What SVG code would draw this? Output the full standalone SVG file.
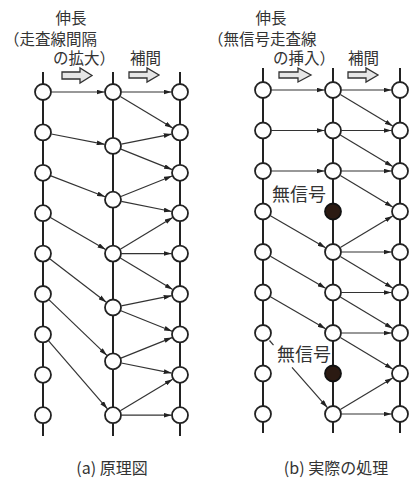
<svg xmlns="http://www.w3.org/2000/svg" width="409" height="479" viewBox="0 0 409 479">
<style>
text{font-family:"Noto Sans CJK JP","Noto Sans",sans-serif;fill:#333}
.h{font-size:15.5px}
.cap{font-size:16px}
.lab{font-size:18px}
.v{stroke:#222;stroke-width:2;fill:none}
.n{fill:#fff;stroke:#222;stroke-width:1.8}
.b{fill:#2b1a12;stroke:#111;stroke-width:1.8}
.c line,.c path{stroke:#333;stroke-width:1.2;fill:none}
.c .a{marker-end:url(#ah)}
.ha{fill:#e6e6e6;stroke:#333;stroke-width:1.3}
</style>
<defs>
<marker id="ah" viewBox="0 0 10 6" refX="10" refY="3" markerWidth="8" markerHeight="5" markerUnits="userSpaceOnUse" orient="auto">
<path d="M0,0 L10,3 L0,6 Z" fill="#222"/>
</marker>
</defs>
<rect width="409" height="479" fill="#fff"/>

<!-- headers -->
<g id="hdr-a">
<text class="h" x="71" y="23.5" text-anchor="middle">伸長</text>
<text class="h" x="4" y="44.5">（走査線間隔</text>
<text class="h" x="53" y="64">の拡大）</text>
<text class="h" x="130" y="64">補間</text>
<path class="ha" d="M62,72 H80 V68 L92,75.5 L80,83 V79 H62 Z"/>
<path class="ha" d="M129,72 H147 V68 L159,75 L147,82 V78 H129 Z"/>
</g>
<g id="hdr-b">
<text class="h" x="271" y="23.5" text-anchor="middle">伸長</text>
<text class="h" x="208" y="44.5">（無信号走査線</text>
<text class="h" x="273" y="64">の挿入）</text>
<text class="h" x="348" y="64">補間</text>
<path class="ha" d="M279,72 H298 V68 L311,75 L298,82 V78 H279 Z"/>
<path class="ha" d="M348,72 H366 V68 L378,75 L366,82 V78 H348 Z"/>
</g>

<!-- vertical scan lines -->
<g id="scanlines">
<line class="v" x1="43" y1="72" x2="43" y2="436"/>
<line class="v" x1="113" y1="72" x2="113" y2="436"/>
<line class="v" x1="180" y1="72" x2="180" y2="436"/>
<line class="v" x1="263" y1="68" x2="263" y2="433"/>
<line class="v" x1="333" y1="68" x2="333" y2="433"/>
<line class="v" x1="400" y1="68" x2="400" y2="433"/>
</g>

<!-- connectors -->
<g id="connectors" class="c">
<!-- (a) left -> middle -->
<line class="a" x1="51.5" y1="92" x2="104.5" y2="92"/>
<line class="a" x1="51.3" y1="134" x2="104.7" y2="144.3"/>
<line class="a" x1="50.9" y1="175.9" x2="105.1" y2="196.7"/>
<line class="a" x1="50.4" y1="217.4" x2="105.6" y2="249.4"/>
<line class="a" x1="49.7" y1="258.8" x2="106.3" y2="302.3"/>
<line class="a" x1="49.1" y1="299.9" x2="106.9" y2="355.4"/>
<line class="a" x1="48.6" y1="340.8" x2="107.4" y2="408.8"/>
<!-- (a) middle -> right -->
<line class="a" x1="121.5" y1="92" x2="171.5" y2="92"/>
<line class="a" x1="120.3" y1="96.4" x2="172.7" y2="128"/>
<line class="a" x1="121.3" y1="144.2" x2="171.7" y2="134.1"/>
<line class="a" x1="120.9" y1="149.1" x2="172.1" y2="169.6"/>
<line class="a" x1="120.9" y1="196.5" x2="172.1" y2="176"/>
<line class="a" x1="121.3" y1="201.4" x2="171.7" y2="211.5"/>
<line class="a" x1="120.3" y1="249.2" x2="172.7" y2="217.6"/>
<line class="a" x1="121.5" y1="253.6" x2="171.5" y2="253.6"/>
<line class="a" x1="120.3" y1="258" x2="172.7" y2="289.6"/>
<line class="a" x1="121.3" y1="305.8" x2="171.7" y2="295.7"/>
<line class="a" x1="120.9" y1="310.7" x2="172.1" y2="331.2"/>
<line class="a" x1="120.9" y1="358.1" x2="172.1" y2="337.6"/>
<line class="a" x1="121.3" y1="363" x2="171.7" y2="373.1"/>
<line class="a" x1="120.3" y1="410.8" x2="172.7" y2="379.2"/>
<line class="a" x1="121.5" y1="415.2" x2="171.5" y2="415.2"/>
<!-- (b) left -> middle -->
<line class="a" x1="271.5" y1="90" x2="324.5" y2="90"/>
<line class="a" x1="271.5" y1="130.5" x2="324.5" y2="130.5"/>
<line class="a" x1="271.5" y1="171" x2="324.5" y2="171"/>
<line class="a" x1="270.4" y1="215.8" x2="325.6" y2="247.7"/>
<line class="a" x1="270.4" y1="256.3" x2="325.6" y2="288.2"/>
<line class="a" x1="270.4" y1="296.8" x2="325.6" y2="328.7"/>
<line x1="269.5" y1="340.5" x2="273.5" y2="345.1"/>
<line class="a" x1="292" y1="367.3" x2="327.4" y2="407.6"/>
<!-- (b) middle -> right -->
<line class="a" x1="341.5" y1="90" x2="391.5" y2="90"/>
<line class="a" x1="340.3" y1="94.4" x2="392.7" y2="126.1"/>
<line class="a" x1="341.5" y1="130.5" x2="391.5" y2="130.5"/>
<line class="a" x1="340.3" y1="134.9" x2="392.7" y2="166.6"/>
<line class="a" x1="341.5" y1="171" x2="391.5" y2="171"/>
<line class="a" x1="340.3" y1="175.4" x2="392.7" y2="207.1"/>
<line class="a" x1="340.3" y1="247.6" x2="392.7" y2="215.9"/>
<line class="a" x1="341.5" y1="252" x2="391.5" y2="252"/>
<line class="a" x1="340.3" y1="256.4" x2="392.7" y2="288.1"/>
<line class="a" x1="341.5" y1="292.5" x2="391.5" y2="292.5"/>
<line class="a" x1="340.3" y1="296.9" x2="392.7" y2="328.6"/>
<line class="a" x1="341.5" y1="333" x2="391.5" y2="333"/>
<line class="a" x1="340.3" y1="337.4" x2="392.7" y2="369.1"/>
<line class="a" x1="340.3" y1="409.6" x2="392.7" y2="377.9"/>
<line class="a" x1="341.5" y1="414" x2="391.5" y2="414"/>
</g>

<!-- (a) nodes -->
<g id="aL0"><circle class="n" cx="43" cy="92" r="8"/></g>
<g id="aL1"><circle class="n" cx="43" cy="132.4" r="8"/></g>
<g id="aL2"><circle class="n" cx="43" cy="172.8" r="8"/></g>
<g id="aL3"><circle class="n" cx="43" cy="213.2" r="8"/></g>
<g id="aL4"><circle class="n" cx="43" cy="253.6" r="8"/></g>
<g id="aL5"><circle class="n" cx="43" cy="294" r="8"/></g>
<g id="aL6"><circle class="n" cx="43" cy="334.4" r="8"/></g>
<g id="aL7"><circle class="n" cx="43" cy="374.8" r="8"/></g>
<g id="aL8"><circle class="n" cx="43" cy="415.2" r="8"/></g>
<g id="aM0"><circle class="n" cx="113" cy="92" r="8"/></g>
<g id="aM1"><circle class="n" cx="113" cy="145.9" r="8"/></g>
<g id="aM2"><circle class="n" cx="113" cy="199.7" r="8"/></g>
<g id="aM3"><circle class="n" cx="113" cy="253.6" r="8"/></g>
<g id="aM4"><circle class="n" cx="113" cy="307.5" r="8"/></g>
<g id="aM5"><circle class="n" cx="113" cy="361.3" r="8"/></g>
<g id="aM6"><circle class="n" cx="113" cy="415.2" r="8"/></g>
<g id="aR0"><circle class="n" cx="180" cy="92" r="8"/></g>
<g id="aR1"><circle class="n" cx="180" cy="132.4" r="8"/></g>
<g id="aR2"><circle class="n" cx="180" cy="172.8" r="8"/></g>
<g id="aR3"><circle class="n" cx="180" cy="213.2" r="8"/></g>
<g id="aR4"><circle class="n" cx="180" cy="253.6" r="8"/></g>
<g id="aR5"><circle class="n" cx="180" cy="294" r="8"/></g>
<g id="aR6"><circle class="n" cx="180" cy="334.4" r="8"/></g>
<g id="aR7"><circle class="n" cx="180" cy="374.8" r="8"/></g>
<g id="aR8"><circle class="n" cx="180" cy="415.2" r="8"/></g>

<!-- (b) nodes -->
<g id="bL0"><circle class="n" cx="263" cy="90" r="8"/></g>
<g id="bL1"><circle class="n" cx="263" cy="130.5" r="8"/></g>
<g id="bL2"><circle class="n" cx="263" cy="171" r="8"/></g>
<g id="bL3"><circle class="n" cx="263" cy="211.5" r="8"/></g>
<g id="bL4"><circle class="n" cx="263" cy="252" r="8"/></g>
<g id="bL5"><circle class="n" cx="263" cy="292.5" r="8"/></g>
<g id="bL6"><circle class="n" cx="263" cy="333" r="8"/></g>
<g id="bL7"><circle class="n" cx="263" cy="373.5" r="8"/></g>
<g id="bL8"><circle class="n" cx="263" cy="414" r="8"/></g>
<g id="bM0"><circle class="n" cx="333" cy="90" r="8"/></g>
<g id="bM1"><circle class="n" cx="333" cy="130.5" r="8"/></g>
<g id="bM2"><circle class="n" cx="333" cy="171" r="8"/></g>
<g id="bM3"><circle class="b" cx="333" cy="211.5" r="8"/></g>
<g id="bM4"><circle class="n" cx="333" cy="252" r="8"/></g>
<g id="bM5"><circle class="n" cx="333" cy="292.5" r="8"/></g>
<g id="bM6"><circle class="n" cx="333" cy="333" r="8"/></g>
<g id="bM7"><circle class="b" cx="333" cy="373.5" r="8"/></g>
<g id="bM8"><circle class="n" cx="333" cy="414" r="8"/></g>
<g id="bR0"><circle class="n" cx="400" cy="90" r="8"/></g>
<g id="bR1"><circle class="n" cx="400" cy="130.5" r="8"/></g>
<g id="bR2"><circle class="n" cx="400" cy="171" r="8"/></g>
<g id="bR3"><circle class="n" cx="400" cy="211.5" r="8"/></g>
<g id="bR4"><circle class="n" cx="400" cy="252" r="8"/></g>
<g id="bR5"><circle class="n" cx="400" cy="292.5" r="8"/></g>
<g id="bR6"><circle class="n" cx="400" cy="333" r="8"/></g>
<g id="bR7"><circle class="n" cx="400" cy="373.5" r="8"/></g>
<g id="bR8"><circle class="n" cx="400" cy="414" r="8"/></g>

<!-- labels -->
<g id="labels">
<text class="lab" x="272" y="201">無信号</text>
<text class="lab" x="277" y="361">無信号</text>
<text class="cap" x="112" y="474" text-anchor="middle">(a) 原理図</text>
<text class="cap" x="336" y="474" text-anchor="middle">(b) 実際の処理</text>
</g>
</svg>
